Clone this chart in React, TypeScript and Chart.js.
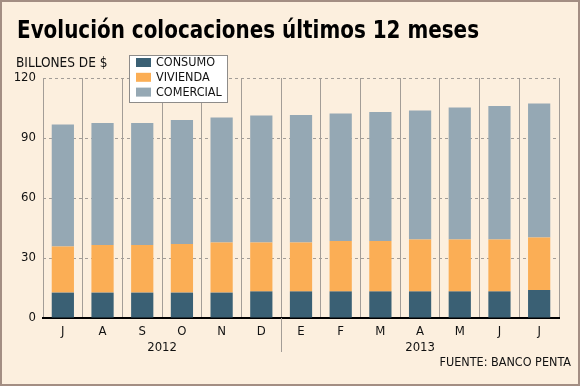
import React, { useEffect, useRef } from 'react';
import { Chart, registerables } from 'chart.js';

Chart.register(...registerables);

// ---- data ----
const months = ['J', 'A', 'S', 'O', 'N', 'D', 'E', 'F', 'M', 'A', 'M', 'J', 'J'];
const yearGroups = [
  { label: '2012', from: 0, to: 5 },
  { label: '2013', from: 6, to: 12 },
];
const seriesNames = ['CONSUMO', 'VIVIENDA', 'COMERCIAL'];
const consumo = [12.7, 12.7, 12.7, 12.7, 12.7, 13.3, 13.3, 13.3, 13.3, 13.3, 13.3, 13.3, 14.0];
const vivienda = [23.0, 23.8, 23.8, 24.3, 25.0, 24.4, 24.5, 25.2, 25.2, 26.0, 26.0, 26.0, 26.2];
const comercial = [61.1, 61.0, 61.0, 62.0, 62.6, 63.5, 63.7, 63.8, 64.5, 64.5, 66.0, 66.7, 67.1];
const yMin = 0;
const yMax = 120;
const yStep = 30;

const titleText = 'Evolución colocaciones últimos 12 meses';
const unitText = 'BILLONES DE $';
const sourceText = 'FUENTE: BANCO PENTA';

// ---- styles ----
const FONT = "'DejaVu Sans Condensed', 'DejaVu Sans', sans-serif";
const BG = '#FCEFDE';
const FRAME = '#A38E83';
const GRID = '#A39D97';
const colors = ['#3A6074', '#FBAE55', '#95A8B4'];

const decorPlugin = {
  id: 'decor',
  beforeDraw(chart: any) {
    const { ctx, width, height } = chart;
    ctx.save();
    ctx.fillStyle = BG;
    ctx.fillRect(0, 0, width, height);
    ctx.restore();
  },
  afterDraw(chart: any) {
    const { ctx, width, height, scales, chartArea } = chart;
    const x = scales.x;
    ctx.save();
    // frame
    ctx.strokeStyle = FRAME;
    ctx.lineWidth = 2;
    ctx.strokeRect(1, 1, width - 2, height - 2);

    // title
    ctx.fillStyle = '#000';
    ctx.textAlign = 'left';
    ctx.textBaseline = 'alphabetic';
    ctx.font = `bold 24px ${FONT}`;
    ctx.fillText(titleText, 17, 37.5, 462);

    // unit
    ctx.font = `13.5px ${FONT}`;
    ctx.fillStyle = '#111';
    ctx.fillText(unitText, 16, 66.5);

    // year separator
    const sepX = (x.getPixelForValue(5) + x.getPixelForValue(6)) / 2;
    ctx.strokeStyle = GRID;
    ctx.lineWidth = 1;
    ctx.beginPath();
    ctx.moveTo(Math.round(sepX) + 0.5, chartArea.bottom);
    ctx.lineTo(Math.round(sepX) + 0.5, 352);
    ctx.stroke();

    // year labels
    ctx.font = `13px ${FONT}`;
    ctx.fillStyle = '#111';
    ctx.textAlign = 'center';
    ctx.textBaseline = 'middle';
    yearGroups.forEach((g) => {
      const cx = (x.getPixelForValue(g.from) + x.getPixelForValue(g.to)) / 2;
      ctx.fillText(g.label, cx, 348);
    });

    // source
    ctx.font = `12.5px ${FONT}`;
    ctx.textAlign = 'right';
    ctx.fillText(sourceText, 571, 363);

    // legend
    const lx = 129.5, ly = 55.5, lw = 98, lh = 47;
    ctx.fillStyle = '#FFFFFF';
    ctx.fillRect(lx, ly, lw, lh);
    ctx.strokeStyle = '#8E8C8A';
    ctx.lineWidth = 1;
    ctx.strokeRect(lx, ly, lw, lh);
    ctx.font = `12.5px ${FONT}`;
    ctx.textAlign = 'left';
    ctx.textBaseline = 'middle';
    chart.data.datasets.forEach((ds: any, i: number) => {
      const cy = 62.5 + i * 14.8;
      ctx.fillStyle = ds.backgroundColor;
      ctx.fillRect(136, cy - 4.5, 15, 9);
      ctx.fillStyle = '#111';
      ctx.fillText(ds.label, 156, cy + 0.5);
    });
    ctx.restore();
  },
};

export default function App() {
  const ref = useRef<HTMLCanvasElement | null>(null);

  useEffect(() => {
    if (!ref.current) return;
    const series = [consumo, vivienda, comercial];
    const chart = new Chart(ref.current, {
      type: 'bar',
      data: {
        labels: months,
        datasets: series.map((d, i) => ({
          label: seriesNames[i],
          data: d,
          backgroundColor: colors[i],
          borderWidth: 0,
          categoryPercentage: 1,
          barPercentage: 0.56,
        })),
      },
      options: {
        responsive: false,
        animation: false,
        events: [],
        layout: { padding: { left: 0, right: 21, top: 78, bottom: 0 } },
        plugins: {
          legend: { display: false },
          title: { display: false },
          tooltip: { enabled: false },
        },
        scales: {
          x: {
            stacked: true,
            grid: { color: GRID, lineWidth: 1, drawTicks: false, offset: true },
            border: { display: true, color: '#000', width: 2 },
            ticks: { color: '#111', font: { family: FONT, size: 13 }, padding: 6 },
            afterFit: (s: any) => { s.height = 68; },
          },
          y: {
            stacked: true,
            min: yMin,
            max: yMax,
            grid: { color: GRID, lineWidth: 1, drawTicks: false },
            border: { display: false, dash: [3, 3] },
            ticks: { stepSize: yStep, color: '#111', font: { family: FONT, size: 13 }, padding: 7 },
            afterFit: (s: any) => { s.width = 43; },
          },
        },
      },
      plugins: [decorPlugin],
    });
    return () => chart.destroy();
  }, []);

  return (
    <div style={{ position: 'absolute', left: 0, top: 0, width: 580, height: 386 }}>
      <canvas ref={ref} width={580} height={386} style={{ display: 'block', width: 580, height: 386 }} />
    </div>
  );
}
